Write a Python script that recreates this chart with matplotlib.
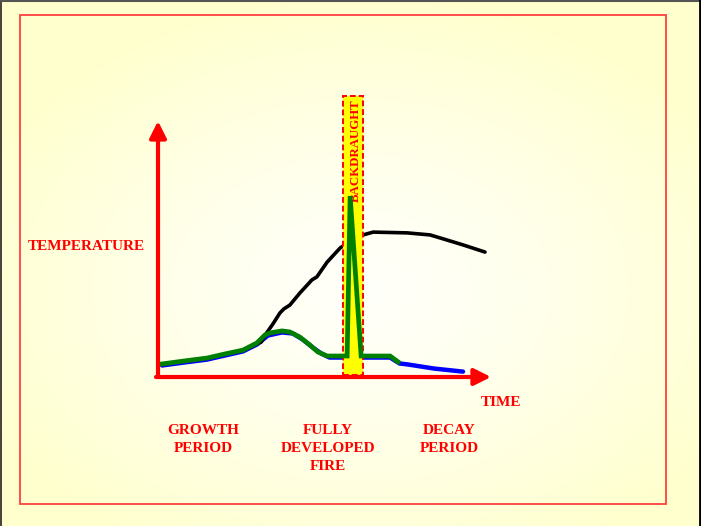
import numpy as np
import matplotlib
matplotlib.use("Agg")
import matplotlib.pyplot as plt
from matplotlib.patches import Rectangle

# Data (time and temperature in arbitrary 0-100 units)
growth_time = [1.2, 8.1, 14.7, 20.1, 25.5, 29.7, 32.1, 33.6, 37.2, 39.6, 42.6, 45.6,
               48.0, 50.8, 55.6, 56.8, 57.7, 61.0, 69.7, 72.1]
growth_temp = [5.1, 6.3, 7.4, 9.0, 10.5, 13.3, 16.4, 17.2, 18.0, 17.6, 15.6, 12.5,
               9.8, 8.2, 8.2, 8.2, 70.7, 8.2, 8.2, 5.9]

decay_time = [1.2, 8.1, 14.7, 20.1, 25.5, 29.7, 33.0, 37.2, 40.5, 43.5, 46.5, 49.0,
              51.5, 61.0, 69.7, 72.5, 75.0, 82.9, 91.6]
decay_temp = [4.5, 5.7, 6.8, 8.4, 10.0, 12.7, 16.2, 17.4, 17.0, 14.6, 11.5, 9.2,
              7.6, 7.6, 7.6, 5.3, 4.9, 3.3, 2.1]

fire_time = [27.0, 31.0, 32.4, 34.5, 36.6, 37.8, 39.6, 42.6, 46.2, 47.7, 50.8, 54.7,
             55.6, 61.6, 64.6, 74.8, 81.7, 86.8, 91.6, 98.2]
fire_temp = [11.3, 13.7, 16.8, 20.7, 25.0, 26.6, 28.1, 32.8, 37.9, 39.1, 44.9, 50.4,
             51.2, 55.5, 56.6, 56.3, 55.5, 53.5, 51.6, 48.8]

backdraught_start = 55.6
backdraught_end = 61.6

period_labels = ["GROWTH\nPERIOD", "FULLY\nDEVELOPED\nFIRE", "DECAY\nPERIOD"]
period_x = [203, 328, 449]

W, H = 701, 526
RED = "#ff0000"
FONT = "Liberation Serif"

fig = plt.figure(figsize=(W / 100, H / 100), dpi=100)

# background slide
bg = fig.add_axes([0, 0, 1, 1])
bg.set_xlim(0, W)
bg.set_ylim(H, 0)
bg.axis("off")
yy, xx = np.mgrid[0:H, 0:W]
r = np.sqrt(((xx - 360) / 420.0) ** 2 + ((yy - 290) / 300.0) ** 2)
r = np.clip(r, 0, 1)
img = np.zeros((H, W, 3))
img[..., 0] = 1.0
img[..., 1] = 1.0
img[..., 2] = (250 - 45 * r ** 1.3) / 255.0
bg.imshow(img, extent=[0, W, H, 0], aspect="auto", zorder=0)

bg.plot([1, 1], [0, H], color="#222222", lw=1.2, zorder=1)
bg.plot([0, W], [1, 1], color="#555555", lw=1.5, zorder=1)
bg.plot([699.5, 699.5], [0, H], color="black", lw=2, zorder=1)
bg.add_patch(Rectangle((20, 15), 646, 489, fill=False, edgecolor="#ff4040",
                       lw=1.3, zorder=1))

txt = dict(color=RED, family=FONT, weight="bold", fontsize=11,
           ha="center", va="center")
bg.text(86, 246, "TEMPERATURE", **txt)
bg.text(501, 402, "TIME", **txt)
for lab, x in zip(period_labels, period_x):
    bg.text(x, 424, lab, color=RED, family=FONT, weight="bold", fontsize=11,
            ha="center", va="top", linespacing=1.5)

# chart axes: origin at the arrow corner
ax = fig.add_axes([158 / W, (H - 377) / H, (491 - 158) / W, (377 - 121) / H])
ax.set_xlim(0, 100)
ax.set_ylim(0, 100)
ax.axis("off")
ax.patch.set_alpha(0)

ax.plot(decay_time, decay_temp, color="#0000ff", lw=3.2, zorder=2,
        solid_capstyle="round", clip_on=False)
ax.plot(fire_time, fire_temp, color="black", lw=2.6, zorder=2,
        solid_capstyle="round", clip_on=False)

ax.add_patch(Rectangle((backdraught_start, 0.8), backdraught_end - backdraught_start,
                       109, facecolor="#ffff00", edgecolor=RED, lw=1.4,
                       linestyle=(0, (3, 1.5)), zorder=3, clip_on=False))
ax.text((backdraught_start + backdraught_end) / 2 + 0.9, 108.5, "BACKDRAUGHT",
        rotation=90, color=RED, family=FONT, weight="bold", fontsize=9.3,
        ha="center", va="top", zorder=4, clip_on=False)

ax.plot(growth_time, growth_temp, color="#008000", lw=3.4, zorder=5,
        solid_joinstyle="miter", clip_on=False)

arrow = dict(arrowstyle="-|>,head_length=1.0,head_width=0.5", color=RED,
             lw=3, shrinkA=0, shrinkB=0, mutation_scale=10)
ax.annotate("", xy=(0, 100), xytext=(0, 0), arrowprops=arrow,
            annotation_clip=False, zorder=6)
ax.annotate("", xy=(100, 0), xytext=(-0.6, 0), arrowprops=arrow,
            annotation_clip=False, zorder=6)

fig.savefig("out.png", dpi=100)
